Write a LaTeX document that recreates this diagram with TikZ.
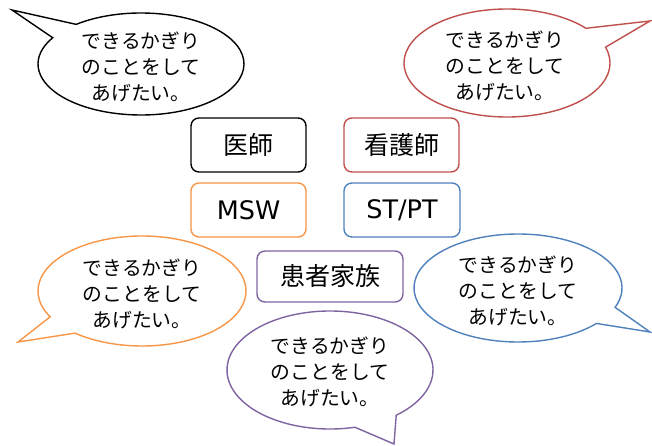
\documentclass[tikz,border=0pt]{standalone}
\usepackage{fontspec}
\setmainfont{Noto Sans CJK JP}
\newfontfamily\latinfont{DejaVu Sans}
\usetikzlibrary{calc}
\definecolor{cred}{HTML}{C0504D}
\definecolor{corange}{HTML}{F79646}
\definecolor{cblue}{HTML}{4F81BD}
\definecolor{cpurple}{HTML}{8064A2}
\begin{document}
\begin{tikzpicture}[x=1pt,y=-1pt,
  bub/.style={line width=1.4pt, fill=white, line join=miter},
  box/.style={draw, rounded corners=8pt, line width=1.4pt, minimum width=115pt, minimum height=54pt, font=\fontsize{25}{28}\selectfont, inner sep=0pt},
  lbox/.style={box, font=\latinfont\fontsize{25.5}{28}\selectfont},
  btext/.style={align=center, font=\fontsize{19.8}{26}\selectfont, inner sep=0pt}]
\useasboundingbox[fill=white] (0,0) rectangle (652,446);
% bubble centers and tips
\coordinate (c1) at (141,64);  \coordinate (t1) at (12,10);
\coordinate (c2) at (507,63);  \coordinate (t2) at (650,21);
\coordinate (c3) at (142,291); \coordinate (t3) at (18,342);
\coordinate (c4) at (518,288); \coordinate (t4) at (650,332);
\coordinate (c5) at (330,370); \coordinate (t5) at (394,444);
% bubbles
\draw[bub, draw=black] ($(c1)+(231:103 and 51)$) arc[start angle=231, end angle=571, x radius=103, y radius=51] -- (t1) -- cycle;
\draw[bub, draw=cred] ($(c2)+(343:103 and 54)$) arc[start angle=343, end angle=680, x radius=103, y radius=54] -- (t2) -- cycle;
\draw[bub, draw=corange] ($(c3)+(152:104 and 55)$) arc[start angle=152, end angle=490, x radius=104, y radius=55] -- (t3) -- cycle;
\draw[bub, draw=cblue] ($(c4)+(41:104 and 54)$) arc[start angle=41, end angle=381, x radius=104, y radius=54] -- (t4) -- cycle;
\draw[bub, draw=cpurple] ($(c5)+(76:103 and 59)$) arc[start angle=76, end angle=410, x radius=103, y radius=59] -- (t5) -- cycle;
% bubble texts
\node[btext] (s1) at ($(c1)+(0,3)$) {できるかぎり\\のことをして\\あげたい。};
\node[btext] (s2) at ($(c2)+(-2,3)$) {できるかぎり\\のことをして\\あげたい。};
\node[btext] (s3) at ($(c3)+(0,3)$) {できるかぎり\\のことをして\\あげたい。};
\node[btext] (s4) at ($(c4)+(0,3)$) {できるかぎり\\のことをして\\あげたい。};
\node[btext] (s5) at ($(c5)+(0,2)$) {できるかぎり\\のことをして\\あげたい。};
% boxes
\node[box, draw=black] (doc) at (248.5,145) {医師};
\node[box, draw=cred] (nurse) at (401.5,145) {看護師};
\node[lbox, draw=corange] (msw) at (248.5,210) {MSW};
\node[lbox, draw=cblue, minimum width=116pt] (stpt) at (402,210) {ST/PT};
\node[box, draw=cpurple, minimum width=146pt, minimum height=51pt] (fam) at (330,276.5) {患者家族};
\end{tikzpicture}
\end{document}
